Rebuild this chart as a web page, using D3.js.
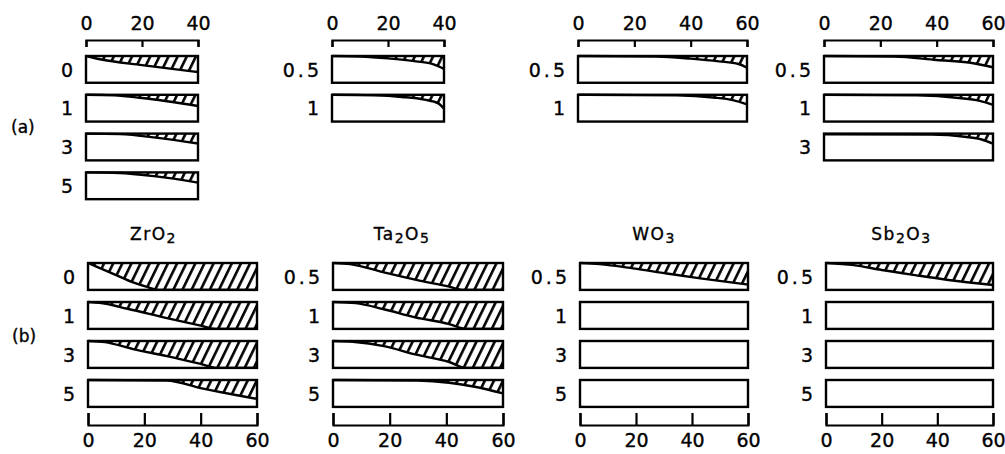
<!DOCTYPE html>
<html>
<head>
<meta charset="utf-8">
<script src="https://cdnjs.cloudflare.com/ajax/libs/d3/7.8.5/d3.min.js"></script>
<style>
  body { margin: 0; background: #fff; }
  svg text { font-family: "DejaVu Sans", sans-serif; fill: #000; stroke: #000; stroke-width: 0.35px; }
</style>
</head>
<body>
<svg id="chart"></svg>
<script>
// Oxide names (digits drawn as subscripts)
const materials = ["ZrO2", "Ta2O5", "WO3", "Sb2O3"];

// Row labels of each panel
const rowsA = [["0", "1", "3", "5"], ["0.5", "1"], ["0.5", "1"], ["0.5", "1", "3"]];
const rowsB = [["0", "1", "3", "5"], ["0.5", "1", "3", "5"], ["0.5", "1", "3", "5"], ["0.5", "1", "3", "5"]];

// Axis extents and ticks
const xMaxA = [40, 40, 60, 60];
const xMaxB = [60, 60, 60, 60];
const ticks40 = [0, 20, 40];
const ticks60 = [0, 20, 40, 60];

// Boundary of hatched zone: [x, depth fraction from top of bar]
const profilesA = [
  [
    [[0, 0], [5, 0.12], [20, 0.34], [40, 0.6]],
    [[0, 0], [10, 0.02], [20, 0.12], [40, 0.42]],
    [[0, 0], [12, 0.02], [25, 0.15], [40, 0.37]],
    [[0, 0], [12, 0.02], [25, 0.15], [40, 0.38]]
  ],
  [
    [[0, 0], [10, 0.02], [20, 0.09], [30, 0.2], [36, 0.3], [40, 0.48]],
    [[0, 0], [15, 0.02], [25, 0.08], [33, 0.18], [38, 0.32], [40, 0.52]]
  ],
  [
    [[0, 0], [28, 0.02], [40, 0.1], [50, 0.2], [57, 0.3], [60, 0.44]],
    [[0, 0], [35, 0.02], [48, 0.1], [55, 0.2], [60, 0.36]]
  ],
  [
    [[0, 0], [25, 0.02], [40, 0.15], [52, 0.25], [60, 0.42]],
    [[0, 0], [33, 0.02], [48, 0.12], [55, 0.22], [60, 0.38]],
    [[0, 0.03], [38, 0.04], [50, 0.12], [56, 0.22], [60, 0.38]]
  ]
];

const profilesB = [
  [
    [[0, 0], [4, 0.18], [10, 0.45], [16, 0.72], [21, 0.89], [25, 1], [60, 1]],
    [[0, 0], [4, 0.03], [14, 0.25], [28, 0.6], [40, 0.88], [45, 1], [60, 1]],
    [[0, 0], [6, 0.04], [16, 0.3], [28, 0.56], [40, 0.85], [46, 1], [60, 1]],
    [[0, 0], [28, 0.02], [40, 0.3], [52, 0.55], [60, 0.7]]
  ],
  [
    [[0, 0], [6, 0.04], [18, 0.35], [29, 0.62], [41, 0.88], [46, 1], [60, 1]],
    [[0, 0], [8, 0.04], [18, 0.27], [29, 0.57], [41, 0.82], [47, 1], [60, 1]],
    [[0, 0], [7, 0.03], [18, 0.19], [29, 0.5], [41, 0.78], [47, 1], [60, 1]],
    [[0, 0], [30, 0.02], [41, 0.1], [50, 0.25], [60, 0.5]]
  ],
  [
    [[0, 0], [7, 0.04], [19, 0.2], [31, 0.39], [43, 0.57], [60, 0.8]],
    [], [], []
  ],
  [
    [[0, 0], [10, 0.08], [20, 0.26], [32, 0.45], [44, 0.63], [60, 0.82]],
    [], [], []
  ]
];

// Layout
const W = 1005, H = 454;
const colsA = [[86, 198], [332, 444], [578, 747], [824, 993]];
const colsB = [[88, 257], [333, 503], [580, 748], [826, 993]];
const titleShift = [-19, -16, -10, -8];
const rowPad = 0.31;

const svg = d3.select("#chart").attr("width", W).attr("height", H);

const defs = svg.append("defs");
defs.append("pattern")
  .attr("id", "hatch")
  .attr("patternUnits", "userSpaceOnUse")
  .attr("width", 8.2)
  .attr("height", 8.2)
  .attr("patternTransform", "rotate(26)")
  .append("line")
  .attr("x1", 4).attr("x2", 4)
  .attr("y1", -1).attr("y2", 9.2)
  .attr("stroke", "#000")
  .attr("stroke-width", 2.6);

function drawPanel(g, xRange, xMax, rows, profiles, top, step, axisPos) {
  const x = d3.scaleLinear().domain([0, xMax]).range(xRange);
  const y = d3.scaleBand()
    .domain(rows)
    .range([top, top + step * (rows.length - rowPad)])
    .paddingInner(rowPad);

  rows.forEach((r, i) => {
    const y0 = y(r), y1 = y(r) + y.bandwidth();
    const depth = d3.scaleLinear().domain([0, 1]).range([y0, y1]);
    const pts = profiles[i];

    g.append("rect")
      .attr("x", x(0)).attr("y", y0)
      .attr("width", x(xMax) - x(0)).attr("height", y.bandwidth())
      .attr("fill", "#fff");

    if (pts.length) {
      const area = d3.area()
        .x((d) => x(d[0]))
        .y0(y0)
        .y1((d) => depth(d[1]))
        .curve(d3.curveMonotoneX);
      const line = d3.line()
        .x((d) => x(d[0]))
        .y((d) => depth(d[1]))
        .curve(d3.curveMonotoneX);
      g.append("path").attr("d", area(pts)).attr("fill", "url(#hatch)");
      g.append("path").attr("d", line(pts))
        .attr("fill", "none").attr("stroke", "#000").attr("stroke-width", 2.4);
    }

    g.append("rect")
      .attr("x", x(0)).attr("y", y0)
      .attr("width", x(xMax) - x(0)).attr("height", y.bandwidth())
      .attr("fill", "none").attr("stroke", "#000").attr("stroke-width", 2.4);

    g.append("text")
      .attr("x", x(0) - 10)
      .attr("y", y0 + y.bandwidth() / 2)
      .attr("dy", "0.38em")
      .attr("text-anchor", "end")
      .attr("letter-spacing", "3px")
      .style("font-size", "19px")
      .text(r);
  });

  const tickVals = xMax === 40 ? ticks40 : ticks60;
  let axis;
  if (axisPos === "top") {
    axis = d3.axisTop(x).tickValues(tickVals).tickSize(-7).tickPadding(10);
  } else {
    axis = d3.axisBottom(x).tickValues(tickVals).tickSize(-12).tickPadding(9);
  }
  const ay = axisPos === "top" ? 40 : 425;
  const ag = g.append("g").attr("transform", `translate(0,${ay})`).call(axis);
  ag.attr("font-family", null).attr("font-size", null);
  ag.select(".domain").attr("stroke-width", 2.2);
  ag.selectAll(".tick line").attr("stroke-width", 2.2);
  ag.selectAll(".tick text").style("font-size", "19px");
}

materials.forEach((m, c) => {
  drawPanel(svg.append("g"), colsA[c], xMaxA[c], rowsA[c], profilesA[c], 56, 38.8, "top");
  drawPanel(svg.append("g"), colsB[c], xMaxB[c], rowsB[c], profilesB[c], 263, 39, "bottom");

  // title with subscripts
  const t = svg.append("text")
    .attr("x", (colsB[c][0] + colsB[c][1]) / 2 + titleShift[c])
    .attr("y", 240)
    .attr("text-anchor", "middle")
    .attr("letter-spacing", "1.5px")
    .style("font-size", "17px");
  let lowered = false;
  m.match(/[A-Za-z]+|\d/g).forEach((part) => {
    if (/\d/.test(part)) {
      t.append("tspan").attr("dy", lowered ? 0 : 3).style("font-size", "14px").text(part);
      lowered = true;
    } else {
      t.append("tspan").attr("dy", lowered ? -3 : 0).text(part);
      lowered = false;
    }
  });
});

svg.append("text").attr("x", 11).attr("y", 127).attr("dy", "0.35em")
  .style("font-size", "17px").text("(a)");
svg.append("text").attr("x", 12).attr("y", 336).attr("dy", "0.35em")
  .style("font-size", "17px").text("(b)");
</script>
</body>
</html>
